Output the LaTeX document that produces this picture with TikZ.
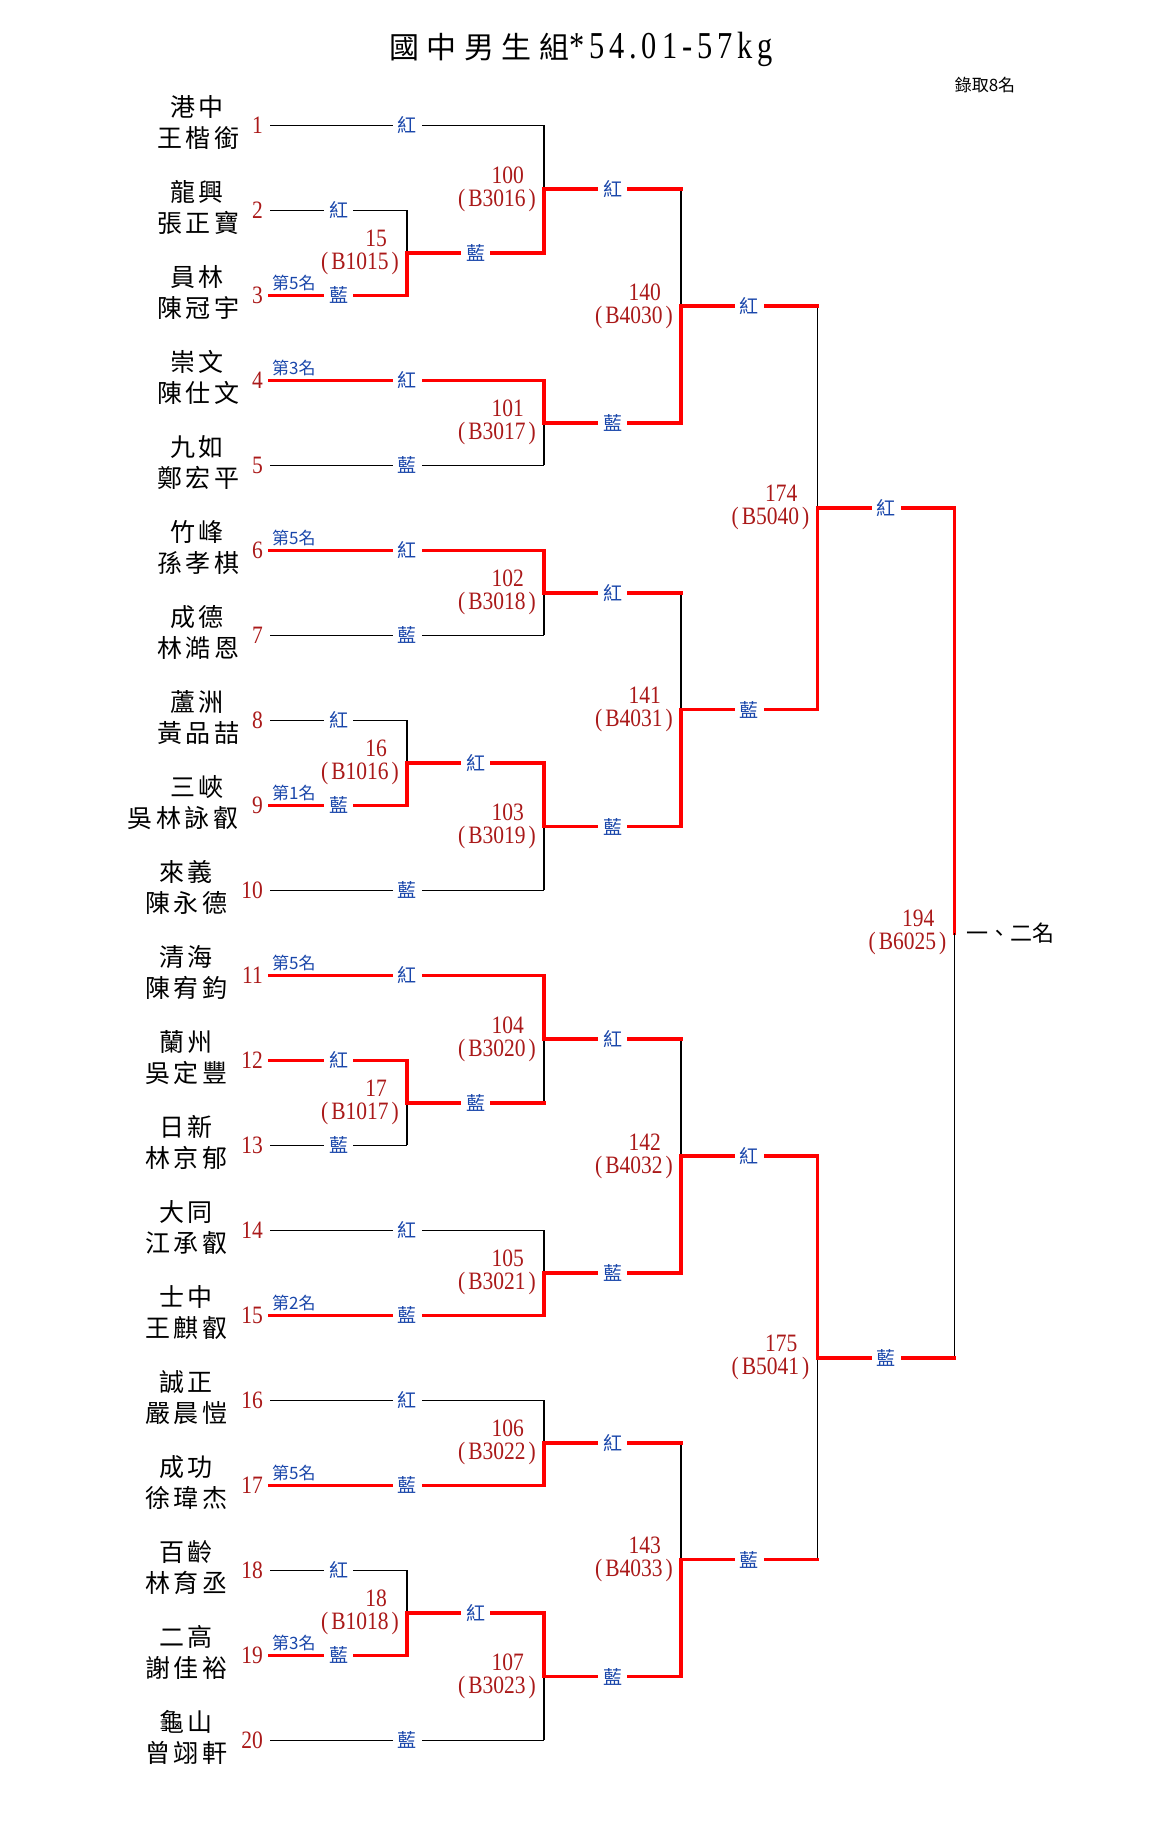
\documentclass[tikz,border=0pt]{standalone}
\usepackage{fontspec}
\setmainfont{Liberation Serif}
\newfontfamily\cjk{Noto Sans CJK TC}
\newfontfamily\cjkwide[LetterSpace=14]{Noto Sans CJK TC}
\newfontfamily\cjktitle[LetterSpace=25]{Noto Sans CJK TC}
\newfontfamily\digits[FakeStretch=0.86]{Liberation Serif}
\newfontfamily\titledigits[FakeStretch=0.8,LetterSpace=13]{Liberation Serif}
\usetikzlibrary{positioning}
\definecolor{seedred}{RGB}{170,25,25}
\definecolor{tagblue}{RGB}{25,70,170}
\definecolor{winred}{RGB}{255,0,0}
\tikzset{%
	lose/.style={draw=black, line width=1.1pt},
	win/.style={draw=winred, line width=3.4pt, line cap=rect},
	tag/.style={
		fill=white,
		text=tagblue,
		inner xsep=5pt,
		inner ysep=1pt,
		font=\cjk\fontsize{19}{19}\selectfont
	},
	seed/.style={anchor=east, inner sep=0pt, text=seedred, font=\digits\fontsize{25}{25}\selectfont},
	school/.style={inner sep=0pt, font=\cjkwide\fontsize{25}{25}\selectfont},
	bout/.style={
		anchor=east,
		align=right,
		inner sep=0pt,
		text=seedred,
		font=\digits\fontsize{25}{23}\selectfont
	},
	rank/.style={anchor=south west, inner sep=0pt, text=tagblue, font=\cjk\fontsize{17}{17}\selectfont},
}
\begin{document}
\begin{tikzpicture}[x=1pt, y=-1pt]
			\useasboundingbox (0,0) rectangle (1160,1825);
			
			\node (title) at (581,49) {{\cjktitle\fontsize{30}{30}\selectfont 國中男生組}{\titledigits\fontsize{38}{38}\selectfont *54.01-57kg}};
			\node [inner sep=0pt, font=\cjk\fontsize{17}{17}\selectfont] (quota) at (985,85) {錄取8名};
			
			\foreach \i in {1,...,20}
			\coordinate (p\i) at (270,{125.3+85*(\i-1)});
			
			\foreach \i in {1,...,20}
			\node [seed] (s\i) at (263,{125.3+85*(\i-1)}) {\i};
			
			\foreach \i/\s/\n/\xs/\xn in {1/港中/王楷銜/197/198, 2/龍興/張正寶/197/198,
				3/員林/陳冠宇/197/198, 4/崇文/陳仕文/197/198, 5/九如/鄭宏平/197/198,
				6/竹峰/孫孝棋/197/198, 7/成德/林澔恩/197/198, 8/蘆洲/黃品喆/197/198,
				9/三峽/吳林詠叡/197/183, 10/來義/陳永德/186/186, 11/清海/陳宥鈞/186/186,
				12/蘭州/吳定豐/186/186, 13/日新/林京郁/186/186, 14/大同/江承叡/186/186,
				15/士中/王麒叡/186/186, 16/誠正/嚴晨愷/186/186, 17/成功/徐瑋杰/186/186,
				18/百齡/林育丞/186/186, 19/二高/謝佳裕/186/186, 20/龜山/曾翊軒/186/186}
			{
				\node [school] (sch\i) at (\xs,{107+85*(\i-1)}) {\s};
				\node [school] (ply\i) at (\xn,{138+85*(\i-1)}) {\n};
			}
			
			\foreach \m/\x/\y/\c in {15/407/252.8/B1015, 16/407/762.8/B1016,
				17/407/1102.8/B1017, 18/407/1612.8/B1018,
				100/544/189/B3016, 101/544/422.8/B3017, 102/544/592.8/B3018,
				103/544/826.5/B3019, 104/544/1039/B3020, 105/544/1272.8/B3021,
				106/544/1442.8/B3022, 107/544/1676.5/B3023,
				140/681/305.9/B4030, 141/681/709.7/B4031,
				142/681/1155.9/B4032, 143/681/1559.7/B4033,
				174/817.5/507.8/B5040, 175/817.5/1357.8/B5041,
				194/954.5/932.8/B6025}
			{
				\coordinate (m\m) at (\x,\y);
				\node [bout] (b\m) at (\x-8,\y) {\m\kern12pt\\(\kern3pt\c\kern3pt)};
			}
			
			\foreach \a/\b/\h/\v/\t in {p1/m100/lose/lose/紅, p2/m15/lose/lose/紅,
				p3/m15/win/win/藍, p4/m101/win/win/紅, p5/m101/lose/lose/藍,
				p6/m102/win/win/紅, p7/m102/lose/lose/藍, p8/m16/lose/lose/紅,
				p9/m16/win/win/藍, p10/m103/lose/lose/藍, p11/m104/win/win/紅,
				p12/m17/win/win/紅, p13/m17/lose/lose/藍, p14/m105/lose/lose/紅,
				p15/m105/win/win/藍, p16/m106/lose/lose/紅, p17/m106/win/win/藍,
				p18/m18/lose/lose/紅, p19/m18/win/win/藍, p20/m107/lose/lose/藍,
				m15/m100/win/win/藍, m16/m103/win/win/紅, m17/m104/win/lose/藍,
				m18/m107/win/win/紅, m100/m140/win/lose/紅, m101/m140/win/win/藍,
				m102/m141/win/lose/紅, m103/m141/win/win/藍, m104/m142/win/lose/紅,
				m105/m142/win/win/藍, m106/m143/win/lose/紅, m107/m143/win/win/藍,
				m140/m174/win/lose/紅, m141/m174/win/win/藍, m142/m175/win/win/紅,
				m143/m175/win/lose/藍, m174/m194/win/win/紅, m175/m194/win/lose/藍}
			{
				\draw [\v] (\a -| \b) -- (\b);
				\draw [\h] (\a) -- node [tag] {\t} (\a -| \b);
			}
			
			\foreach \i/\r in {3/5, 4/3, 6/5, 9/1, 11/5, 15/2, 17/5, 19/3}
			\node [rank] (r\i) at ([shift={(2,-4)}]p\i) {第\r 名};
			
			\node [right=12pt of m194, inner sep=0pt, font=\cjk\fontsize{22}{22}\selectfont] (place) {一、二名};
			
		\end{tikzpicture}
\end{document}
